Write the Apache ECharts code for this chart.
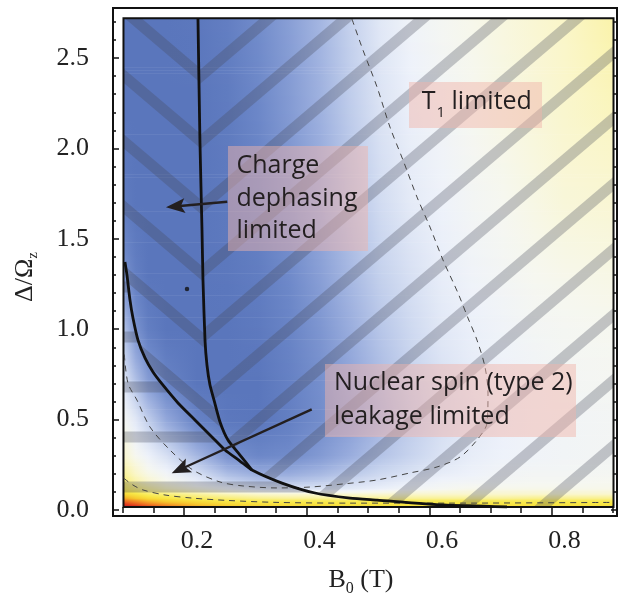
<!DOCTYPE html>
<html><head><meta charset="utf-8">
<script src="https://cdn.jsdelivr.net/npm/echarts@6/dist/echarts.min.js"></script>
<style>html,body{margin:0;padding:0;background:#fff}#c{width:624px;height:595px}</style>
</head><body><div id="c"></div><script>
// ---- axes ----
const X_MIN = 0.0629, X_MAX = 0.8857, Y_MIN = -0.0332, Y_MAX = 2.7768;
const X_LO = 0.08, X_HI = 0.88, Y_LO = 0.017, Y_HI = 2.72;
const X_LABELS = [0.2, 0.4, 0.6, 0.8];
const Y_LABELS = [0.0, 0.5, 1.0, 1.5, 2.0, 2.5];
const X_MAJOR_TICKS = [0.1792, 0.3792, 0.5792, 0.7792];
const X_MINOR_TICKS = [0.0792,0.1292,0.1792,0.2292,0.2792,0.3292,0.3792,0.4292,0.4792,0.5292,0.5792,0.6292,0.6792,0.7292,0.7792,0.8292,0.8792];
const Y_MAJOR_TICKS = [0, 0.5, 1.0, 1.5, 2.0, 2.5];
const Y_MINOR_TICKS = [0,0.1,0.2,0.3,0.4,0.5,0.6,0.7,0.8,0.9,1.0,1.1,1.2,1.3,1.4,1.5,1.6,1.7,1.8,1.9,2.0,2.1,2.2,2.3,2.4,2.5,2.6,2.7];

// ---- density field (0 = red ... 1 = blue) ----
const FIELD_X = [0.08,0.10,0.12,0.15,0.20,0.25,0.30,0.35,0.40,0.45,0.50,0.55,0.60,0.65,0.70,0.75,0.80,0.88];
const FIELD_Y = [0.017,0.03,0.05,0.07,0.09,0.12,0.16,0.20,0.30,0.50,0.70,1.00,1.30,1.70,2.20,2.72];
const FIELD_V = [
 [0.00,0.03,0.06,0.10,0.15,0.18,0.20,0.21,0.21,0.22,0.22,0.22,0.22,0.22,0.22,0.22,0.22,0.22],
 [0.04,0.07,0.10,0.13,0.17,0.20,0.21,0.22,0.22,0.23,0.23,0.23,0.23,0.23,0.23,0.23,0.23,0.23],
 [0.10,0.13,0.16,0.19,0.22,0.24,0.25,0.25,0.25,0.25,0.25,0.25,0.25,0.25,0.25,0.25,0.25,0.25],
 [0.16,0.19,0.22,0.24,0.27,0.29,0.31,0.32,0.32,0.32,0.32,0.32,0.32,0.32,0.32,0.31,0.31,0.31],
 [0.21,0.24,0.27,0.29,0.32,0.35,0.37,0.38,0.38,0.38,0.38,0.37,0.37,0.37,0.37,0.37,0.37,0.37],
 [0.25,0.28,0.31,0.35,0.40,0.46,0.52,0.54,0.54,0.52,0.49,0.46,0.44,0.42,0.42,0.42,0.42,0.42],
 [0.28,0.33,0.37,0.42,0.50,0.60,0.66,0.66,0.63,0.58,0.54,0.50,0.47,0.46,0.45,0.44,0.44,0.43],
 [0.31,0.36,0.41,0.46,0.55,0.68,0.74,0.74,0.70,0.64,0.58,0.54,0.50,0.48,0.46,0.45,0.45,0.44],
 [0.37,0.43,0.48,0.55,0.70,0.85,0.90,0.88,0.82,0.74,0.66,0.60,0.54,0.50,0.48,0.47,0.46,0.45],
 [0.44,0.52,0.62,0.76,0.93,0.99,1.00,0.95,0.88,0.80,0.71,0.63,0.56,0.52,0.49,0.47,0.46,0.45],
 [0.52,0.66,0.80,0.92,1.00,1.00,1.00,0.94,0.87,0.78,0.69,0.61,0.55,0.51,0.48,0.47,0.45,0.44],
 [0.66,0.85,0.95,1.00,1.00,1.00,0.98,0.92,0.84,0.74,0.65,0.58,0.52,0.49,0.47,0.45,0.44,0.43],
 [0.85,0.95,1.00,1.00,1.00,0.99,0.96,0.89,0.80,0.70,0.61,0.55,0.50,0.47,0.45,0.43,0.42,0.41],
 [0.97,1.00,1.00,1.00,1.00,0.98,0.93,0.85,0.76,0.66,0.57,0.51,0.48,0.45,0.43,0.41,0.39,0.38],
 [1.00,1.00,1.00,1.00,1.00,0.97,0.90,0.82,0.73,0.63,0.54,0.49,0.46,0.43,0.41,0.39,0.37,0.35],
 [1.00,1.00,1.00,1.00,0.99,0.95,0.88,0.80,0.71,0.61,0.52,0.47,0.44,0.42,0.40,0.38,0.36,0.33]
];

// ---- curves ----
const CURVE_A = [[0.2016,2.720],[0.2049,2.030],[0.2082,1.549],[0.2098,1.272],[0.2131,0.940],[0.2163,0.802],[0.2212,0.691],[0.2278,0.608],[0.2376,0.487],[0.2506,0.387],[0.2702,0.304],[0.2898,0.221]];
const CURVE_B = [[0.0824,1.372],[0.0857,1.300],[0.0906,1.162],[0.0955,1.062],[0.1037,0.940],[0.1151,0.841],[0.1282,0.763],[0.1429,0.697],[0.1690,0.592],[0.1967,0.498],[0.2245,0.404],[0.2457,0.332],[0.2702,0.271],[0.2898,0.221],[0.3388,0.149],[0.3927,0.094],[0.4498,0.066],[0.4939,0.055],[0.6016,0.028],[0.7061,0.017]];
const MERGE_B = 13;
const DASH_U = [[0.4531,2.715],[0.4710,2.544],[0.4939,2.340],[0.5151,2.118],[0.5363,1.936],[0.5592,1.731],[0.5804,1.565],[0.6016,1.383],[0.6261,1.200],[0.6424,1.062],[0.6571,0.940],[0.6702,0.791],[0.6751,0.647],[0.6735,0.481],[0.6571,0.387],[0.6294,0.293],[0.5918,0.238],[0.5478,0.205],[0.4939,0.166],[0.4384,0.144],[0.3845,0.127],[0.3306,0.122],[0.2751,0.133],[0.2376,0.155],[0.1935,0.221],[0.1559,0.332],[0.1233,0.459],[0.1020,0.608],[0.0873,0.702],[0.0808,0.885]];
const DASH_LOW = [[0.0800,0.177],[0.0955,0.138],[0.1118,0.111],[0.1478,0.083],[0.1918,0.066],[0.2490,0.053],[0.3306,0.042],[0.4498,0.038],[0.6131,0.038],[0.8792,0.042]];
const DOT = [[0.1837,1.222]];

// ---- annotations (data coordinates) ----
const BOX_T1 = [[0.5461,2.367],[0.7633,2.113]];
const BOX_CHARGE = [[0.2506,2.013],[0.4792,1.433]];
const BOX_NUC = [[0.4090,0.8075],[0.8188,0.4038]];
const TXT_T1 = [0.5669,2.258];
const TXT_CHARGE = [[0.2645,1.903,'Charge'],[0.2645,1.720,'dephasing'],[0.2645,1.543,'limited']];
const TXT_NUC = [[0.4237,0.7008,'Nuclear spin (type 2)'],[0.4237,0.5144,'leakage limited']];
const ARROW_1 = [[0.2494,1.7052],[0.1494,1.6742]];
const ARROW_2 = [[0.3873,0.5570],[0.1587,0.2030]];

// ---- styles ----
const CMAP = [[0,[200,20,35]],[0.06,[225,60,30]],[0.12,[240,130,35]],[0.18,[246,200,45]],[0.24,[248,232,70]],[0.30,[249,240,140]],[0.36,[250,246,200]],[0.43,[246,247,240]],[0.48,[238,242,250]],[0.60,[200,212,238]],[0.75,[150,170,220]],[0.90,[108,135,200]],[1,[90,118,188]]];
function cmap(v){
  v = Math.max(0, Math.min(1, v));
  for (let i = 1; i < CMAP.length; i++) {
    if (v <= CMAP[i][0]) {
      const a = CMAP[i-1], b = CMAP[i], t = (v - a[0]) / (b[0] - a[0]);
      const c = a[1].map((q, k) => Math.round(q + (b[1][k] - q) * t));
      return 'rgb(' + c.join(',') + ')';
    }
  }
  return 'rgb(90,118,188)';
}
const HATCH_COLOR = 'rgba(70,72,88,0.30)';
const BOX_FILL = 'rgba(240,180,170,0.48)';
const INK = '#231f20';
const SANS = 'Open Sans';
const SERIF = 'Liberation Serif';

// hatch geometry (pixels)
const H_S = 0.85, H_XA = 201, H_Y0 = 76, H_P = 65.5, H_HALF = 7.2;
const HZ_Y0 = 337, HZ_P = 50, HZ_HALF = 5.5;

function clipHalf(poly, a, b, sgn) {
  const out = [];
  const side = p => sgn * ((b[0]-a[0])*(p[1]-a[1]) - (b[1]-a[1])*(p[0]-a[0]));
  for (let i = 0; i < poly.length; i++) {
    const P = poly[i], Q = poly[(i+1) % poly.length];
    const sp = side(P), sq = side(Q);
    if (sp >= 0) out.push(P);
    if ((sp >= 0) !== (sq >= 0)) {
      const t = sp / (sp - sq);
      out.push([P[0] + t*(Q[0]-P[0]), P[1] + t*(Q[1]-P[1])]);
    }
  }
  return out;
}
function clipConvex(poly, clip) {
  let area = 0;
  for (let i = 0; i < clip.length; i++) { const p = clip[i], q = clip[(i+1)%clip.length]; area += p[0]*q[1] - q[0]*p[1]; }
  const sgn = area >= 0 ? 1 : -1;
  let r = poly;
  for (let i = 0; i < clip.length && r.length >= 3; i++) r = clipHalf(r, clip[i], clip[(i+1)%clip.length], sgn);
  return r.length >= 3 ? r : null;
}
function bands(kind) {
  const out = [], xl = 90, xr = 640;
  for (let k = -4; k < 22; k++) {
    if (kind === 'h') {
      const yc = HZ_Y0 + HZ_P * (k - 2);
      out.push([[xl, yc - HZ_HALF], [xr, yc - HZ_HALF], [xr, yc + HZ_HALF], [xl, yc + HZ_HALF]]);
    } else {
      const sg = kind === 'slash' ? -1 : 1;
      const yc = x => H_Y0 + H_P * k + sg * H_S * (x - H_XA);
      out.push([[xl, yc(xl) - H_HALF], [xr, yc(xr) - H_HALF], [xr, yc(xr) + H_HALF], [xl, yc(xl) + H_HALF]]);
    }
  }
  return out;
}
const REGIONS = [
  { kind: 'back', pts: () => [[X_LO, Y_HI], ...CURVE_A, ...CURVE_B.slice(0, MERGE_B + 1).reverse(), [X_LO, CURVE_B[0][1]]] },
  { kind: 'slash', pts: () => [...CURVE_A, ...CURVE_B.slice(MERGE_B + 1), [X_HI, Y_LO], [X_HI, Y_HI]] },
  { kind: 'h', pts: () => [[X_LO, CURVE_B[0][1]], ...CURVE_B, [X_LO, Y_LO]] }
];

function renderField(params, api) {
  const i = api.value(2);
  const y0 = FIELD_Y[i], y1 = FIELD_Y[i+1];
  const pL = api.coord([FIELD_X[0], y0]), pR = api.coord([FIELD_X[FIELD_X.length-1], y1]);
  const xL = pL[0], xR = pR[0], yB = pL[1], yT = pR[1];
  const h = yB - yT, n = Math.max(1, Math.ceil(h / 1.5));
  const offs = FIELD_X.map(x => (api.coord([x, y0])[0] - xL) / (xR - xL));
  const children = [];
  for (let k = 0; k < n; k++) {
    const t = (k + 0.5) / n;
    const stops = FIELD_X.map((x, j) => ({ offset: offs[j], color: cmap(FIELD_V[i][j] * (1 - t) + FIELD_V[i+1][j] * t) }));
    const yy = yB - (k + 1) * h / n;
    children.push({ type: 'rect', shape: { x: xL, y: yy - 0.35, width: xR - xL, height: h / n + 0.7 },
      style: { fill: { type: 'linear', x: 0, y: 0, x2: 1, y2: 0, colorStops: stops } } });
  }
  return { type: 'group', children };
}
function renderHatch(params, api) {
  const reg = REGIONS[api.value(2)];
  const poly = reg.pts().map(p => api.coord(p));
  const children = [];
  bands(reg.kind).forEach(b => {
    const c = clipConvex(poly, b);
    if (c) children.push({ type: 'polygon', shape: { points: c }, style: { fill: HATCH_COLOR } });
  });
  return { type: 'group', children };
}
function renderFrame(params, api) {
  const a = api.coord([X_LO, Y_HI]), b = api.coord([X_HI, Y_LO]);
  return { type: 'rect', shape: { x: a[0], y: a[1], width: b[0] - a[0], height: b[1] - a[1] },
    style: { fill: 'none', stroke: '#111', lineWidth: 2 } };
}

function xAx(pos, ticks, len, labels) {
  return { type: 'value', min: X_MIN, max: X_MAX, position: pos, gridIndex: 0,
    axisLine: { show: false }, splitLine: { show: false },
    axisTick: { show: true, inside: true, length: len, customValues: ticks, lineStyle: { color: '#111', width: 1.5 } },
    axisLabel: labels ? { show: true, customValues: labels, formatter: v => v.toFixed(1), margin: 12, color: '#222', fontFamily: SERIF, fontSize: 26 } : { show: false } };
}
function yAx(pos, ticks, len, labels) {
  return { type: 'value', min: Y_MIN, max: Y_MAX, position: pos, gridIndex: 0,
    axisLine: { show: false }, splitLine: { show: false },
    axisTick: { show: true, inside: true, length: len, customValues: ticks, lineStyle: { color: '#111', width: 1.5 } },
    axisLabel: labels ? { show: true, customValues: labels, formatter: v => v.toFixed(1), margin: 24, color: '#222', fontFamily: SERIF, fontSize: 26 } : { show: false } };
}

const chart = echarts.init(document.getElementById('c'), null, { renderer: 'canvas' });
chart.setOption({
  animation: false,
  backgroundColor: '#fff',
  grid: { left: 113, top: 8, width: 504, height: 508, show: true, borderColor: '#111', borderWidth: 2, backgroundColor: 'transparent' },
  xAxis: [xAx('bottom', X_MAJOR_TICKS, 6, X_LABELS), xAx('bottom', X_MINOR_TICKS, 3, null), xAx('top', X_MAJOR_TICKS, 6, null), xAx('top', X_MINOR_TICKS, 3, null)],
  yAxis: [yAx('left', Y_MAJOR_TICKS, 6, Y_LABELS), yAx('left', Y_MINOR_TICKS, 3, null), yAx('right', Y_MAJOR_TICKS, 6, null), yAx('right', Y_MINOR_TICKS, 3, null)],
  series: [
    { type: 'custom', z: 1, renderItem: renderField, data: FIELD_Y.slice(0, -1).map((y, i) => [X_LO, y, i]), silent: true },
    { type: 'custom', z: 2, renderItem: renderHatch, data: REGIONS.map((r, i) => [X_LO, Y_LO, i]), silent: true },
    { type: 'custom', z: 3, renderItem: renderFrame, data: [[X_LO, Y_LO, 0]], silent: true },
    { type: 'line', z: 4, data: DASH_U, showSymbol: false, smooth: 0.3, lineStyle: { color: '#444', width: 1, type: [6, 5] } },
    { type: 'line', z: 4, data: DASH_LOW, showSymbol: false, smooth: 0.3, lineStyle: { color: '#444', width: 1, type: [6, 5] } },
    { type: 'line', z: 5, data: CURVE_A, showSymbol: false, smooth: 0.2, lineStyle: { color: '#111', width: 2.8 } },
    { type: 'line', z: 5, data: CURVE_B, showSymbol: false, smooth: 0.2, lineStyle: { color: '#111', width: 2.8 } },
    { type: 'scatter', z: 6, data: DOT, symbolSize: 4.5, itemStyle: { color: '#111' } }
  ]
});

const P = v => chart.convertToPixel({ xAxisIndex: 0, yAxisIndex: 0 }, v);
const els = [];
function boxEl(b) {
  const a = P(b[0]), c = P(b[1]);
  return { type: 'rect', z: 20, shape: { x: a[0], y: a[1], width: c[0] - a[0], height: c[1] - a[1] }, style: { fill: BOX_FILL } };
}
[BOX_T1, BOX_CHARGE, BOX_NUC].forEach(b => els.push(boxEl(b)));
function txt(pos, text, rich) {
  const p = P(pos);
  return { type: 'text', z: 21, x: p[0], y: p[1], style: { text, fontFamily: SANS, fontSize: 25, fill: INK, align: 'left', verticalAlign: 'middle', rich } };
}
els.push(txt(TXT_T1, '{a|T}{s|1}{a| limited}', {
  a: { fontFamily: SANS, fontSize: 25, fill: INK, lineHeight: 30 },
  s: { fontFamily: SANS, fontSize: 15, fill: INK, lineHeight: 30, padding: [22, 0, 0, 1] } }));
TXT_CHARGE.forEach(t => els.push(txt([t[0], t[1]], t[2])));
TXT_NUC.forEach(t => els.push(txt([t[0], t[1]], t[2])));
function arrow(tail, tip) {
  const a = P(tail), b = P(tip);
  const dx = b[0] - a[0], dy = b[1] - a[1], L = Math.hypot(dx, dy), ux = dx / L, uy = dy / L, nx = -uy, ny = ux;
  const HL = 19, HW = 7.5, NOTCH = 4;
  const base = [b[0] - ux * HL, b[1] - uy * HL];
  const head = [[b[0], b[1]], [base[0] + nx * HW, base[1] + ny * HW], [b[0] - ux * (HL - NOTCH), b[1] - uy * (HL - NOTCH)], [base[0] - nx * HW, base[1] - ny * HW]];
  els.push({ type: 'line', z: 22, shape: { x1: a[0], y1: a[1], x2: b[0] - ux * (HL - NOTCH - 1), y2: b[1] - uy * (HL - NOTCH - 1) }, style: { stroke: INK, lineWidth: 2.4 } });
  els.push({ type: 'polygon', z: 22, shape: { points: head }, style: { fill: INK } });
}
arrow(ARROW_1[0], ARROW_1[1]);
arrow(ARROW_2[0], ARROW_2[1]);
// axis titles
els.push({ type: 'text', z: 21, x: 361, y: 580, style: { text: '{a|B}{s|0}{a| (T)}', align: 'center', verticalAlign: 'middle',
  rich: { a: { fontFamily: SERIF, fontSize: 26, fill: '#222', lineHeight: 30 }, s: { fontFamily: SERIF, fontSize: 16, fill: '#222', lineHeight: 30, padding: [18, 0, 0, 0] } } } });
els.push({ type: 'text', z: 21, x: 25, y: 277, rotation: Math.PI / 2, style: { text: '{a|Δ/Ω}{s|z}', align: 'center', verticalAlign: 'middle',
  rich: { a: { fontFamily: SERIF, fontSize: 26, fill: '#222', lineHeight: 30 }, s: { fontFamily: SERIF, fontSize: 15, fill: '#222', lineHeight: 30, padding: [16, 0, 0, 0] } } } });
chart.setOption({ graphic: { elements: els } });
</script></body></html>
